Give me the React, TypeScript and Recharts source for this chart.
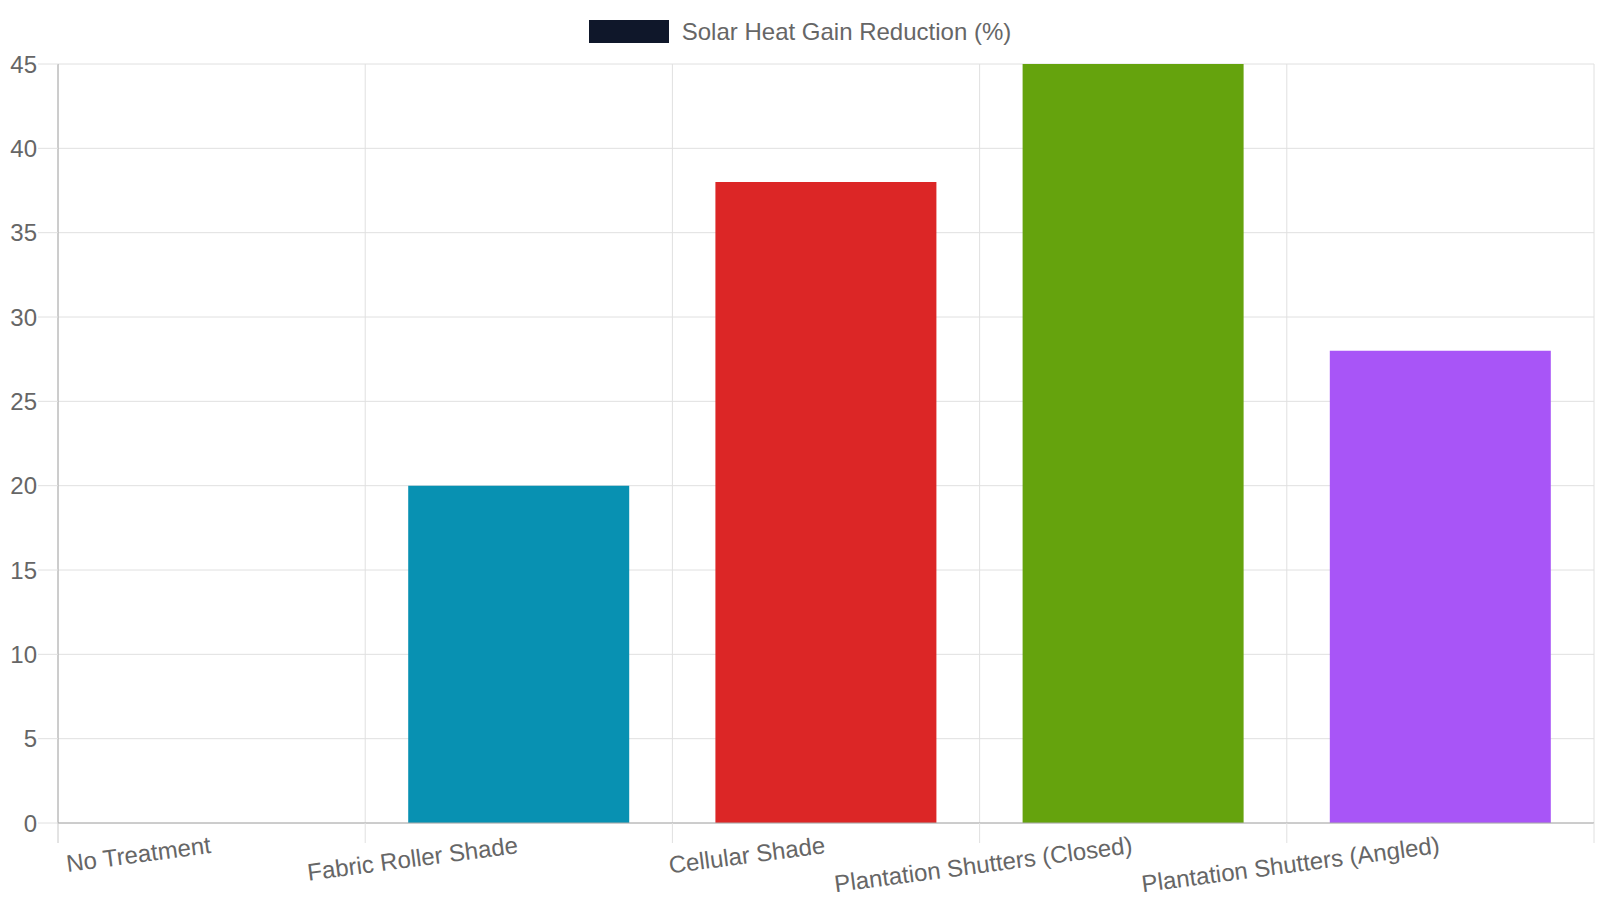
import React from 'react';
import { BarChart, Bar, XAxis, YAxis, CartesianGrid, Legend, Cell } from 'recharts';

const categories = [
  'No Treatment',
  'Fabric Roller Shade',
  'Cellular Shade',
  'Plantation Shutters (Closed)',
  'Plantation Shutters (Angled)',
];
const reduction = [0, 20, 38, 45, 28];
const barColors = ['#94a3b8', '#0891b2', '#dc2626', '#65a30d', '#a855f7'];
const yTicks = [0, 5, 10, 15, 20, 25, 30, 35, 40, 45];
const seriesName = 'Solar Heat Gain Reduction (%)';

const data = categories.map((name, i) => ({ name, value: reduction[i] }));

const FONT = '"Liberation Sans", Arial, Helvetica, sans-serif';
const W = 1600;
const H = 900;
const M = { top: 0, right: 6, bottom: 0, left: 0 };
const Y_W = 58;
const BAND = (W - Y_W - M.left - M.right) / categories.length;

// x labels sit under the category centre, tick marks on the category edges
const XTick = ({ x, y, payload, index }: any) => {
  const left = x - BAND / 2;
  const ty = y + 30;
  return (
    <g>
      <line x1={left} y1={y} x2={left} y2={y + 20} stroke={index === 0 ? '#c8c8c8' : '#e0e0e0'} />
      {index === categories.length - 1 && (
        <line x1={x + BAND / 2} y1={y} x2={x + BAND / 2} y2={y + 20} stroke="#e0e0e0" />
      )}
      <text x={x} y={ty} textAnchor="end" fill="#666" fontSize={24} fontFamily={FONT}
        transform={`rotate(-7.5, ${x}, ${ty})`}>
        {payload.value}
      </text>
    </g>
  );
};

const LegendBox = () => (
  <div style={{ height: 64, width: W, display: 'flex', justifyContent: 'center', alignItems: 'flex-start', paddingTop: 20, boxSizing: 'border-box' }}>
    <div style={{ display: 'flex', alignItems: 'center', height: 23 }}>
      <span style={{ width: 80, height: 23, background: '#0f172a', display: 'inline-block' }} />
      <span style={{ marginLeft: 13, fontSize: 24, color: '#666', fontFamily: FONT, lineHeight: '23px' }}>{seriesName}</span>
    </div>
  </div>
);

export default function App() {
  return (
    <div style={{ position: 'absolute', left: 0, top: 0, width: W, height: H, background: '#fff' }}>
      <BarChart width={W} height={H} data={data} margin={M} barCategoryGap="14%">
        <Legend verticalAlign="top" content={<LegendBox />} wrapperStyle={{ left: 0, width: W }} />
        <CartesianGrid stroke="#e0e0e0"
          verticalCoordinatesGenerator={({ offset }: any) =>
            categories.concat(['']).map((_, i) => offset.left + (i * offset.width) / categories.length)} />
        <XAxis dataKey="name" height={77} tickSize={0} tickMargin={0} interval={0}
          axisLine={{ stroke: '#aaa' }} tickLine={false} tick={<XTick />} />
        <YAxis width={Y_W} domain={[0, 45]} ticks={yTicks} tickSize={20} tickMargin={1}
          axisLine={{ stroke: '#aaa' }} tickLine={{ stroke: '#e0e0e0' }}
          tick={{ fill: '#666', fontSize: 24, fontFamily: FONT }} />
        <Bar dataKey="value" name={seriesName} isAnimationActive={false}>
          {data.map((d, i) => (
            <Cell key={d.name} fill={barColors[i]} />
          ))}
        </Bar>
      </BarChart>
    </div>
  );
}
